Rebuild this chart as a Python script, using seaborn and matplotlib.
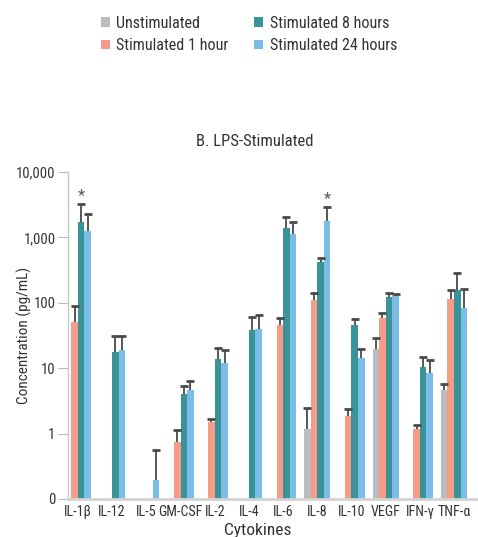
import os
import numpy as np
import pandas as pd
import matplotlib
matplotlib.use("Agg")
import matplotlib.pyplot as plt
from matplotlib import font_manager
from matplotlib.font_manager import FontProperties
import seaborn as sns

nan = np.nan
cytokines = ["IL-1β", "IL-12", "IL-5", "GM-CSF", "IL-2", "IL-4", "IL-6",
             "IL-8", "IL-10", "VEGF", "IFN-γ", "TNF-α"]
conditions = ["Unstimulated", "Stimulated 1 hour", "Stimulated 8 hours",
              "Stimulated 24 hours"]

unstim = [nan, nan, nan, nan, nan, nan, nan, 1.17, nan, 19.5, nan, 4.6]
unstim_err = [nan, nan, nan, nan, nan, nan, nan, 1.31, nan, 9.5, nan, 1.2]
stim1 = [50, nan, nan, 0.74, 1.5, nan, 45, 109, 1.85, 58, 1.17, 113]
stim1_err = [39, nan, nan, 0.40, 0.18, nan, 13.6, 34, 0.54, 12, 0.19, 44]
stim8 = [1700, 17.5, nan, 4.0, 13.6, 38, 1370, 415, 45, 121, 10.4, 155]
stim8_err = [1540, 13.5, nan, 1.4, 7.1, 23.6, 670, 75, 11, 21, 4.4, 130]
stim24 = [1250, 18.8, 0.195, 4.6, 11.9, 39.4, 1110, 1755, 14.2, 126, 8.4, 82]
stim24_err = [1050, 12.2, 0.375, 1.7, 7.1, 26.6, 630, 1135, 5.5, 10, 4.9, 81]

significant = [("IL-1β", "Stimulated 8 hours"), ("IL-8", "Stimulated 24 hours")]

ytick_vals = [0.1, 1, 10, 100, 1000, 10000]
ytick_labels = ["0", "1", "10", "100", "1,000", "10,000"]

colors = ["#BBBCC0", "#F59C88", "#3A9399", "#7BBDE8"]

values = [unstim, stim1, stim8, stim24]
errors = [unstim_err, stim1_err, stim8_err, stim24_err]
rows = []
for cond, vals, errs in zip(conditions, values, errors):
    for c, v, e in zip(cytokines, vals, errs):
        rows.append({"Cytokine": c, "Condition": cond, "Value": v, "Err": e})
df = pd.DataFrame(rows)
plot_df = df.dropna(subset=["Value"])

sns.set_style("white")


# ---- look for an installed condensed/narrow font file ----
def find_condensed():
    best = None
    best_score = -1
    for f in font_manager.fontManager.ttflist:
        base = os.path.basename(f.fname).lower()
        nm = f.name.lower()
        txt = base + " " + nm
        if not ("condensed" in txt or "narrow" in txt or
                str(f.stretch).lower() in ("condensed", "semi-condensed",
                                           "extra-condensed")):
            continue
        if any(k in base for k in ("bold", "italic", "oblique", "light", "thin",
                                   "black", "medium", "semibold", "extrabold",
                                   "mono")):
            continue
        score = 1
        if "semicondensed" in base or "semi-condensed" in txt:
            score = 2
        elif "extracondensed" in base or "extra-condensed" in txt:
            score = 1
        elif "condensed" in txt or "narrow" in txt:
            score = 3
        for pref, add in (("roboto", 3), ("liberation", 3), ("noto", 2),
                          ("dejavu", 1), ("open", 2)):
            if pref in txt:
                score += add
        if score > best_score:
            best_score, best = score, f.fname
    return best


cond_path = find_condensed()
if cond_path:
    def fp(size):
        return FontProperties(fname=cond_path, size=size)
    scale = 1.0
else:
    def fp(size):
        return FontProperties(family="Roboto", size=size)
    scale = 0.86

plt.rcParams["font.family"] = ["Roboto", "DejaVu Sans"]
text_color = "#333333"

fig = plt.figure(figsize=(4.78, 5.37), dpi=100)
ax = fig.add_axes([68 / 478, 1 - 499 / 537, 410 / 478, (499 - 172) / 537])

sns.barplot(data=plot_df, x="Cytokine", y="Value", hue="Condition",
            order=cytokines, hue_order=conditions, palette=colors,
            width=0.77, errorbar=None, saturation=1, ax=ax, legend=True,
            edgecolor="none", linewidth=0)
ax.set_yscale("log")
ax.set_ylim(0.1, 10000)
ax.set_xlim(-0.29, 11.7)

# error bars (upper only) from bar geometry
for cond, cont in zip(conditions, ax.containers):
    sub = df[df["Condition"] == cond].set_index("Cytokine")
    for bar in cont:
        h = bar.get_height()
        if not np.isfinite(h) or h <= 0:
            continue
        xc = bar.get_x() + bar.get_width() / 2
        cat = cytokines[int(round(xc))]
        err = sub.loc[cat, "Err"]
        if not np.isfinite(err):
            continue
        _, caps, _ = ax.errorbar([xc], [h], yerr=[[0], [err]], fmt="none",
                                 ecolor="#4a4a4a", elinewidth=1.3,
                                 capsize=3.2, capthick=2.0, zorder=3)
        caps[0].set_visible(False)
        for cp in caps[1:]:
            cp.set_color("black")
        if (cat, cond) in significant:
            ax.annotate("*", (xc, h + err), xytext=(0, 1),
                        textcoords="offset points", ha="center", va="bottom",
                        fontproperties=fp(12), color="#555555")

ax.set_yticks(ytick_vals)
ax.set_yticklabels(ytick_labels)
ax.yaxis.set_minor_locator(matplotlib.ticker.NullLocator())
ax.tick_params(axis="y", which="major", length=7, width=0.8, color="#BBBBBB",
               labelcolor=text_color, pad=2, left=True)
ax.tick_params(axis="x", length=0, labelcolor=text_color, pad=4)
for lbl in ax.get_yticklabels():
    lbl.set_fontproperties(fp(10.5 * scale))
for lbl in ax.get_xticklabels():
    lbl.set_fontproperties(fp(10.1 if cond_path else 8.6))

for s in ["top", "right"]:
    ax.spines[s].set_visible(False)
ax.spines["left"].set_color("#C8C8C8")
ax.spines["left"].set_linewidth(1.0)
ax.spines["bottom"].set_color("#D3D3D3")
ax.spines["bottom"].set_linewidth(2.0)

ax.set_xlabel("Cytokines", fontproperties=fp(12.5 * scale), color=text_color)
ax.xaxis.set_label_coords(0.463, -0.073)
ax.set_ylabel("Concentration (pg/mL)",
              fontproperties=fp(11 if cond_path else 9.5),
              color=text_color)
ax.yaxis.set_label_coords(-0.088, 0.5)
ax.set_title("B. LPS-Stimulated", fontproperties=fp(12 * scale),
             color=text_color, x=0.456, pad=19)

handles, labels = ax.get_legend_handles_labels()
ax.legend_.remove()
fig.legend(handles, labels, loc="upper left",
           bbox_to_anchor=(101 / 478, 1 - 16 / 537),
           ncol=2, frameon=False, handlelength=0.55, handleheight=0.55,
           handletextpad=0.4, columnspacing=1.6 if cond_path else 1.3,
           labelspacing=0.45, borderpad=0, borderaxespad=0,
           prop=fp(11.6 if cond_path else 10.5), labelcolor=text_color)

fig.savefig("out.png", dpi=100)
